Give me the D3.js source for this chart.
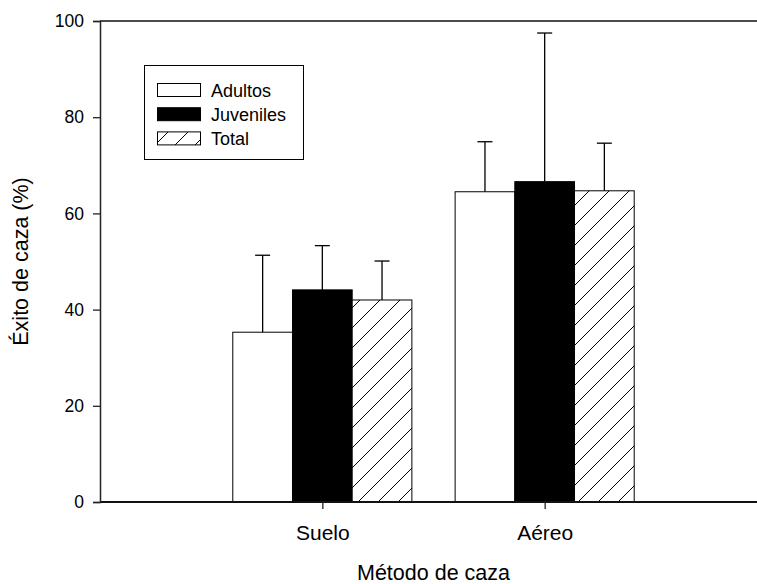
<!DOCTYPE html>
<html><head><meta charset="utf-8">
<script src="https://cdnjs.cloudflare.com/ajax/libs/d3/7.8.5/d3.min.js"></script>
<style>body{margin:0;background:#fff}svg{display:block}text{font-family:"Liberation Sans",Arial,sans-serif;fill:#000}</style>
</head><body>
<script>
const categories = ["Suelo", "Aéreo"];
const seriesNames = ["Adultos", "Juveniles", "Total"];
const adultos = [35.3, 64.5];
const juveniles = [44.1, 66.6];
const total = [42.0, 64.7];
const adultosErr = [16.0, 10.4];
const juvenilesErr = [9.2, 30.9];
const totalErr = [8.1, 9.9];
const yTicks = [0, 20, 40, 60, 80, 100];

const W = 757, H = 584;
const svg = d3.select("body").append("svg").attr("width", W).attr("height", H);
const pLeft = 100, pRight = 767, pTop = 21, pBottom = 502;
const x = d3.scaleLinear().domain([0, categories.length + 1]).range([pLeft, pRight]);
const y = d3.scaleLinear().domain([0, 100]).range([pBottom, pTop]);
const barW = 0.2685;

const defs = svg.append("defs");
const pat = defs.append("pattern").attr("id", "hatch").attr("patternUnits", "userSpaceOnUse")
  .attr("width", 20).attr("height", 20);
pat.append("rect").attr("width", 20).attr("height", 20).attr("fill", "#fff");
pat.append("path").attr("d", "M-5,5 L5,-5 M0,20 L20,0 M15,25 L25,15").attr("stroke", "#000").attr("stroke-width", 1);

const series = [
  {name: seriesNames[0], vals: adultos, err: adultosErr, fill: "#fff"},
  {name: seriesNames[1], vals: juveniles, err: juvenilesErr, fill: "#000"},
  {name: seriesNames[2], vals: total, err: totalErr, fill: "url(#hatch)"}
];

// error bars (drawn first, bars cover lower part)
series.forEach((s, si) => {
  s.vals.forEach((v, ci) => {
    const cx = x(ci + 1 + (si - 1) * barW);
    const g = svg.append("g").attr("stroke", "#000").attr("stroke-width", 1.3);
    g.append("line").attr("x1", cx).attr("x2", cx).attr("y1", y(v)).attr("y2", y(v + s.err[ci]));
    g.append("line").attr("x1", cx - 7.5).attr("x2", cx + 7.5).attr("y1", y(v + s.err[ci])).attr("y2", y(v + s.err[ci]));
  });
});

series.forEach((s, si) => {
  svg.append("g").selectAll("rect").data(s.vals).join("rect")
    .attr("x", (d, ci) => x(ci + 1 + (si - 1) * barW - barW / 2))
    .attr("width", x(barW) - x(0))
    .attr("y", d => y(d))
    .attr("height", d => y(0) - y(d))
    .attr("fill", s.fill).attr("stroke", "#000").attr("stroke-width", 1);
});

// frame
svg.append("line").attr("x1", pLeft).attr("x2", pRight).attr("y1", pTop).attr("y2", pTop).attr("stroke", "#111").attr("stroke-width", 1.6);
svg.append("line").attr("x1", pLeft).attr("x2", pRight).attr("y1", pBottom).attr("y2", pBottom).attr("stroke", "#111").attr("stroke-width", 2);

// y axis
const yAxis = svg.append("g").attr("transform", `translate(${pLeft},0)`)
  .call(d3.axisLeft(y).tickValues(yTicks).tickSize(7).tickPadding(9).tickFormat(d3.format("d")));
yAxis.select(".domain").attr("stroke", "#222").attr("stroke-width", 1.5);
yAxis.selectAll(".tick line").attr("stroke", "#222").attr("stroke-width", 1.3);
yAxis.selectAll("text").style("font-size", "17.5px").style("font-family", "Liberation Sans, Arial, sans-serif").attr("fill", "#000");

// x axis
const xAxis = svg.append("g").attr("transform", `translate(0,${pBottom})`)
  .call(d3.axisBottom(x).tickValues([1, 2]).tickSize(7).tickPadding(16).tickFormat((d) => categories[d - 1]));
xAxis.select(".domain").remove();
xAxis.selectAll(".tick line").attr("stroke", "#222").attr("stroke-width", 1.3);
xAxis.selectAll("text").style("font-size", "21px").style("font-family", "Liberation Sans, Arial, sans-serif").attr("fill", "#000");

// axis titles
svg.append("text").attr("x", (pLeft + pRight) / 2).attr("y", 580).attr("text-anchor", "middle")
  .style("font-size", "21.5px").text("Método de caza");
svg.append("text").attr("transform", `translate(28,${(pTop + pBottom) / 2}) rotate(-90)`).attr("text-anchor", "middle")
  .style("font-size", "21.5px").text("Éxito de caza (%)");

// legend
const lg = svg.append("g");
lg.append("rect").attr("x", 144.5).attr("y", 65.5).attr("width", 159).attr("height", 94)
  .attr("fill", "#fff").attr("stroke", "#000").attr("stroke-width", 1);
series.forEach((s, i) => {
  const yy = 83.5 + i * 24.2;
  lg.append("rect").attr("x", 157.5).attr("y", yy).attr("width", 43).attr("height", 13)
    .attr("fill", s.fill).attr("stroke", "#000").attr("stroke-width", 1);
  lg.append("text").attr("x", 211).attr("y", yy + 13).style("font-size", "18px").text(s.name);
});
</script>
</body></html>
